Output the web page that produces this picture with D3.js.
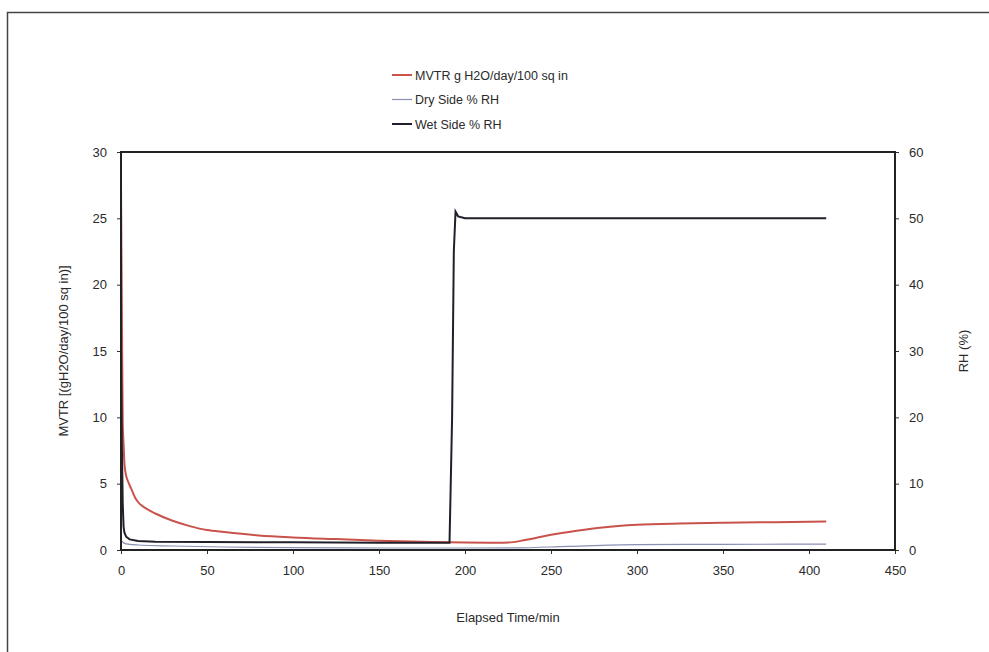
<!DOCTYPE html>
<html>
<head>
<meta charset="utf-8">
<script src="https://cdn.jsdelivr.net/npm/d3@7"></script>
<style>
  body { margin: 0; background: #fff; }
  text { font-family: "Liberation Sans", Arial, sans-serif; fill: #2a2a2a; }
  .axis path { display: none; }
  .axis line { stroke: #333; }
  .axis text { font-size: 13px; }
</style>
</head>
<body>
<script>
// MVTR test run: transmission rate plus humidity on both sides of the film

const w = 989;
const h = 652;
const margin = { top: 152, right: 94, bottom: 102, left: 121 };
const width = w - margin.left - margin.right;
const height = h - margin.top - margin.bottom;

// MVTR, g H2O/day/100 sq in (left axis)
const mvtrTime = [0, 0.5, 1, 1.5, 2, 3, 4, 6, 8, 10, 15, 20, 30, 40, 50, 60, 80, 100, 125, 150, 175, 200, 215, 225, 235, 250, 265, 280, 300, 325, 350, 380, 410];
const mvtr     = [27.5, 18, 9.5, 8, 6.5, 5.6, 5.2, 4.6, 4.0, 3.6, 3.1, 2.75, 2.2, 1.8, 1.5, 1.35, 1.1, 0.95, 0.82, 0.7, 0.62, 0.56, 0.55, 0.56, 0.75, 1.15, 1.45, 1.7, 1.9, 2.0, 2.05, 2.1, 2.15];

// Dry side % RH (right axis)
const dryTime = [0, 1, 2, 5, 10, 30, 60, 100, 150, 200, 230, 260, 300, 350, 410];
const dry     = [1.5, 1.2, 1.0, 0.85, 0.75, 0.6, 0.45, 0.35, 0.3, 0.3, 0.32, 0.55, 0.8, 0.85, 0.9];

// Wet side % RH (right axis)
const wetTime = [0, 0.5, 1, 1.5, 2, 3, 5, 10, 20, 50, 100, 150, 191, 192.5, 193.5, 194.5, 196, 200, 250, 300, 350, 410];
const wet     = [30, 16, 7, 3.5, 2.6, 2.0, 1.6, 1.35, 1.25, 1.2, 1.15, 1.1, 1.1, 20, 45, 51, 50.3, 50, 50, 50, 50, 50];

const xTicks = [0, 50, 100, 150, 200, 250, 300, 350, 400, 450];
const yLeftTicks = [0, 5, 10, 15, 20, 25, 30];
const yRightTicks = [0, 10, 20, 30, 40, 50, 60];

const svg = d3.select("body")
  .append("svg")
  .attr("width", w)
  .attr("height", h);

// outer frame (only top and left edges show)
svg.append("rect")
  .attr("x", 7.5)
  .attr("y", 12.5)
  .attr("width", w + 10)
  .attr("height", h + 10)
  .attr("fill", "none")
  .attr("stroke", "#444")
  .attr("stroke-width", 1.5);

const g = svg.append("g")
  .attr("transform", `translate(${margin.left},${margin.top})`);

const x_scale = d3.scaleLinear().domain([0, 450]).range([0, width]);
const yL = d3.scaleLinear().domain([0, 30]).range([height, 0]);
const yR = d3.scaleLinear().domain([0, 60]).range([height, 0]);

g.append("g")
  .attr("class", "axis")
  .attr("transform", `translate(0,${height})`)
  .call(d3.axisBottom(x_scale).tickValues(xTicks).tickSize(4).tickPadding(12));

g.append("g")
  .attr("class", "axis")
  .call(d3.axisLeft(yL).tickValues(yLeftTicks).tickSize(4).tickPadding(10));

g.append("g")
  .attr("class", "axis")
  .attr("transform", `translate(${width},0)`)
  .call(d3.axisRight(yR).tickValues(yRightTicks).tickSize(4).tickPadding(10));

const lineL = d3.line().x(d => x_scale(d[0])).y(d => yL(d[1])).curve(d3.curveMonotoneX);
const lineR = d3.line().x(d => x_scale(d[0])).y(d => yR(d[1])).curve(d3.curveMonotoneX);
const lineWet = d3.line().x(d => x_scale(d[0])).y(d => yR(d[1]));

g.append("path")
  .datum(dryTime.map((t, i) => [t, dry[i]]))
  .attr("d", lineR)
  .attr("fill", "none")
  .attr("stroke", "#8a8fb4")
  .attr("stroke-width", 1.2);

g.append("path")
  .datum(mvtrTime.map((t, i) => [t, mvtr[i]]))
  .attr("d", lineL)
  .attr("fill", "none")
  .attr("stroke", "#c9534b")
  .attr("stroke-width", 2);

g.append("path")
  .datum(wetTime.map((t, i) => [t, wet[i]]))
  .attr("d", lineWet)
  .attr("fill", "none")
  .attr("stroke", "#20202c")
  .attr("stroke-width", 2);

// plot frame
g.append("rect")
  .attr("width", width)
  .attr("height", height)
  .attr("fill", "none")
  .attr("stroke", "#222")
  .attr("stroke-width", 2);

g.append("text")
  .attr("x", width / 2)
  .attr("y", height + 72)
  .attr("text-anchor", "middle")
  .attr("font-size", "13px")
  .text("Elapsed Time/min");

g.append("text")
  .attr("transform", "rotate(-90)")
  .attr("x", -height / 2)
  .attr("y", -53)
  .attr("text-anchor", "middle")
  .attr("font-size", "13px")
  .text("MVTR [(gH2O/day/100 sq in)]");

g.append("text")
  .attr("transform", "rotate(-90)")
  .attr("x", -height / 2)
  .attr("y", width + 73)
  .attr("text-anchor", "middle")
  .attr("font-size", "13px")
  .text("RH (%)");

// legend
const legendItems = [
  { name: "MVTR g H2O/day/100 sq in", color: "#c9534b", sw: 2 },
  { name: "Dry Side % RH", color: "#8a8fb4", sw: 1.2 },
  { name: "Wet Side % RH", color: "#20202c", sw: 2 }
];

const legend = svg.append("g")
  .attr("transform", "translate(392, 75)");

const item = legend.selectAll(".legend-item")
  .data(legendItems)
  .enter()
  .append("g")
  .attr("class", "legend-item")
  .attr("transform", (d, i) => `translate(0, ${i * 24.5})`);

item.append("line")
  .attr("x1", 0)
  .attr("x2", 20)
  .attr("stroke", d => d.color)
  .attr("stroke-width", d => d.sw);

item.append("text")
  .attr("x", 23)
  .attr("y", 4.5)
  .attr("font-size", "12.5px")
  .text(d => d.name);
</script>
</body>
</html>
